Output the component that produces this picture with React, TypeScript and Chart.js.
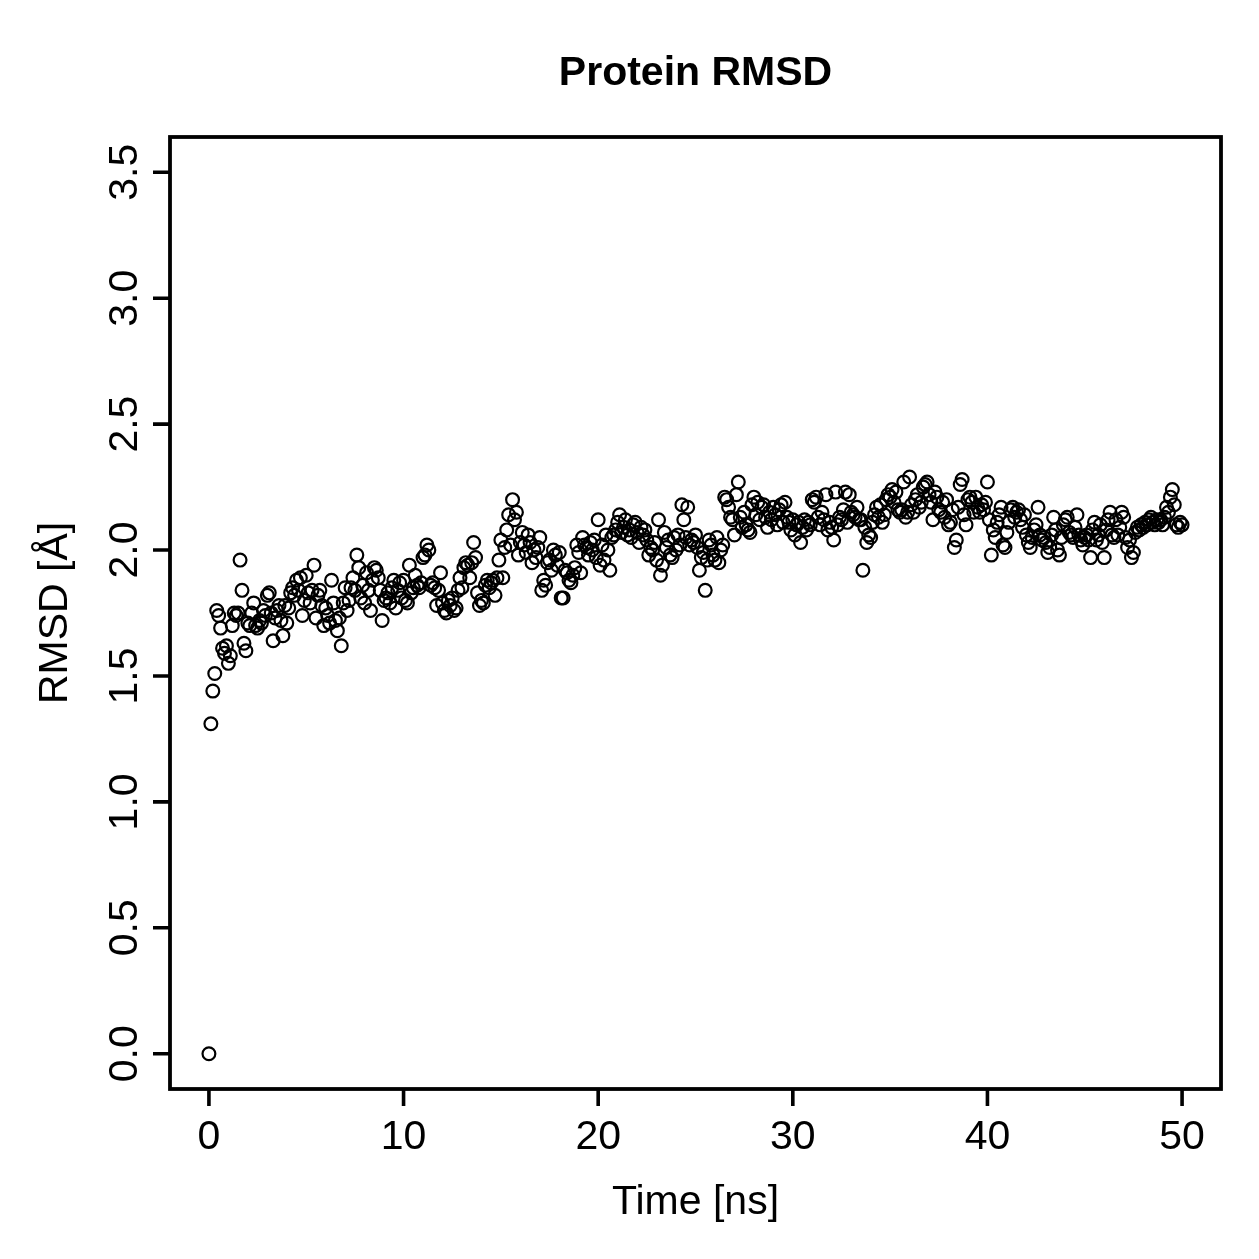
import React, { useEffect, useRef } from "react";
import { Chart, registerables } from "chart.js";

Chart.register(...registerables);

// Sampling interval of the trajectory frames (ns)
const FRAME_STEP_NS = 0.1;

// Backbone RMSD per frame (Å), 10 frames per ns
const rmsd: number[] = [
  0.00, 1.31, 1.44, 1.51, 1.76, 1.74, 1.69, 1.61, 1.59, 1.62,
  1.55, 1.58, 1.70, 1.75, 1.74, 1.75, 1.96, 1.84, 1.63, 1.60,
  1.71, 1.70, 1.75, 1.79, 1.70, 1.69, 1.72, 1.71, 1.76, 1.74,
  1.82, 1.83, 1.75, 1.64, 1.73, 1.76, 1.78, 1.72, 1.66, 1.78,
  1.71, 1.77, 1.83, 1.85, 1.82, 1.88, 1.84, 1.89, 1.74, 1.80,
  1.90, 1.83, 1.79, 1.84, 1.94, 1.73, 1.82, 1.84, 1.78, 1.70,
  1.77, 1.74, 1.71, 1.88, 1.79, 1.72, 1.68, 1.73, 1.62, 1.79,
  1.85, 1.76, 1.80, 1.85, 1.89, 1.84, 1.98, 1.93, 1.81, 1.86,
  1.79, 1.91, 1.84, 1.76, 1.88, 1.93, 1.92, 1.89, 1.84, 1.72,
  1.80, 1.81, 1.83, 1.79, 1.85, 1.88, 1.77, 1.84, 1.87, 1.81,
  1.88, 1.80, 1.79, 1.94, 1.83, 1.85, 1.90, 1.86, 1.85, 1.87,
  1.97, 1.98, 2.02, 2.00, 1.86, 1.87, 1.85, 1.78, 1.84, 1.91,
  1.79, 1.76, 1.75, 1.80, 1.78, 1.81, 1.76, 1.77, 1.84, 1.89,
  1.85, 1.93, 1.95, 1.94, 1.89, 1.95, 2.03, 1.97, 1.83, 1.78,
  1.80, 1.79, 1.86, 1.88, 1.85, 1.87, 1.88, 1.82, 1.89, 1.96,
  2.04, 1.89, 2.01, 2.08, 2.14, 2.02, 2.20, 2.12, 2.15, 1.98,
  2.03, 2.07, 2.02, 1.99, 2.06, 2.03, 1.95, 2.00, 1.97, 2.01,
  2.05, 1.84, 1.88, 1.86, 1.95, 1.96, 1.92, 2.00, 1.98, 1.94,
  1.99, 1.81, 1.81, 1.92, 1.91, 1.88, 1.87, 1.90, 1.93, 2.02,
  1.99, 1.91, 2.05, 2.02, 2.01, 1.98, 2.03, 2.00, 2.04, 1.97,
  2.12, 1.94, 2.02, 1.96, 2.06, 2.00, 1.92, 2.05, 2.06, 2.08,
  2.11, 2.14, 2.07, 2.09, 2.12, 2.06, 2.08, 2.05, 2.10, 2.11,
  2.07, 2.03, 2.09, 2.06, 2.08, 2.04, 1.98, 2.01, 2.00, 2.03,
  1.96, 2.12, 1.90, 1.94, 2.07, 2.01, 2.04, 1.98, 1.97, 2.05,
  2.00, 2.06, 2.02, 2.18, 2.12, 2.05, 2.17, 2.02, 2.04, 2.03,
  2.06, 2.01, 1.92, 1.97, 1.99, 1.84, 1.96, 2.04, 2.02, 1.98,
  1.96, 2.05, 1.95, 2.00, 2.02, 2.21, 2.20, 2.17, 2.13, 2.12,
  2.06, 2.22, 2.27, 2.13, 2.09, 2.15, 2.10, 2.08, 2.07, 2.18,
  2.21, 2.14, 2.19, 2.12, 2.17, 2.18, 2.13, 2.09, 2.15, 2.12,
  2.17, 2.14, 2.10, 2.16, 2.18, 2.11, 2.19, 2.13, 2.11, 2.08,
  2.12, 2.06, 2.10, 2.11, 2.03, 2.09, 2.12, 2.08, 2.11, 2.10,
  2.20, 2.19, 2.21, 2.13, 2.10, 2.15, 2.12, 2.22, 2.08, 2.11,
  2.09, 2.04, 2.23, 2.10, 2.13, 2.12, 2.16, 2.23, 2.11, 2.22,
  2.15, 2.14, 2.13, 2.17, 2.12, 2.12, 1.92, 2.09, 2.03, 2.06,
  2.05, 2.11, 2.14, 2.17, 2.13, 2.18, 2.11, 2.14, 2.20, 2.22,
  2.21, 2.24, 2.19, 2.23, 2.16, 2.15, 2.16, 2.27, 2.13, 2.15,
  2.29, 2.18, 2.15, 2.20, 2.22, 2.17, 2.19, 2.25, 2.26, 2.27,
  2.22, 2.19, 2.12, 2.23, 2.21, 2.16, 2.15, 2.19, 2.13, 2.20,
  2.10, 2.11, 2.16, 2.01, 2.04, 2.17, 2.26, 2.28, 2.14, 2.10,
  2.20, 2.21, 2.19, 2.15, 2.21, 2.17, 2.15, 2.18, 2.16, 2.19,
  2.27, 2.12, 1.98, 2.08, 2.05, 2.11, 2.14, 2.17, 2.02, 2.01,
  2.07, 2.11, 2.16, 2.17, 2.13, 2.15, 2.16, 2.12, 2.09, 2.14,
  2.06, 2.03, 2.01, 2.05, 2.08, 2.10, 2.17, 2.06, 2.04, 2.05,
  2.03, 1.99, 2.01, 2.06, 2.13, 2.08, 2.00, 1.98, 2.05, 2.10,
  2.12, 2.13, 2.07, 2.06, 2.05, 2.09, 2.14, 2.06, 2.04, 2.02,
  2.05, 2.06, 2.04, 1.97, 2.08, 2.11, 2.04, 2.06, 2.10, 2.03,
  1.97, 2.08, 2.12, 2.15, 2.06, 2.05, 2.12, 2.06, 2.09, 2.15,
  2.13, 2.05, 2.01, 2.04, 1.97, 1.99, 2.07, 2.09, 2.08, 2.10,
  2.09, 2.11, 2.10, 2.12, 2.13, 2.11, 2.10, 2.12, 2.11, 2.12,
  2.10, 2.13, 2.17, 2.15, 2.21, 2.24, 2.18, 2.10, 2.09, 2.11,
  2.10,
];

const xTicks: number[] = [0, 10, 20, 30, 40, 50];
const yTicks: number[] = [0.0, 0.5, 1.0, 1.5, 2.0, 2.5, 3.0, 3.5];

const TITLE = "Protein RMSD";
const X_TITLE = "Time [ns]";
const Y_TITLE = "RMSD [Å]";

const FONT = '"Liberation Sans", Arial, Helvetica, sans-serif';

// R-style box, outward ticks and labels, drawn through the chart's scales
const baseGraphics = {
  id: "baseGraphics",
  afterDraw(chart: any) {
    const { ctx, chartArea, scales } = chart;
    const xs = scales.x;
    const ys = scales.y;
    const { left, right, top, bottom } = chartArea;
    const tick = 17;
    ctx.save();
    ctx.strokeStyle = "#000";
    ctx.fillStyle = "#000";
    ctx.lineWidth = 3.8;
    ctx.lineCap = "square";
    ctx.strokeRect(left, top, right - left, bottom - top);

    // x axis
    ctx.lineCap = "butt";
    ctx.lineWidth = 3.6;
    ctx.beginPath();
    xTicks.forEach((v) => {
      const px = xs.getPixelForValue(v);
      ctx.moveTo(px, bottom);
      ctx.lineTo(px, bottom + tick);
    });
    ctx.stroke();
    ctx.font = `41px ${FONT}`;
    ctx.textAlign = "center";
    ctx.textBaseline = "alphabetic";
    xTicks.forEach((v) => {
      ctx.fillText(String(v), xs.getPixelForValue(v), bottom + 60);
    });

    // y axis
    ctx.beginPath();
    yTicks.forEach((v) => {
      const py = ys.getPixelForValue(v);
      ctx.moveTo(left, py);
      ctx.lineTo(left - tick, py);
    });
    ctx.stroke();
    yTicks.forEach((v) => {
      ctx.save();
      ctx.translate(left - 33, ys.getPixelForValue(v));
      ctx.rotate(-Math.PI / 2);
      ctx.fillText(v.toFixed(1), 0, 0);
      ctx.restore();
    });

    // axis titles
    const cx = (left + right) / 2;
    const cy = (top + bottom) / 2;
    ctx.fillText(X_TITLE, cx, bottom + 125);
    ctx.save();
    ctx.translate(left - 103, cy);
    ctx.rotate(-Math.PI / 2);
    ctx.fillText(Y_TITLE, 0, 0);
    ctx.restore();

    // main title
    ctx.font = `bold 41px ${FONT}`;
    ctx.fillText(TITLE, cx, top - 52);
    ctx.restore();
  },
};

export default function App() {
  const canvasRef = useRef<HTMLCanvasElement | null>(null);

  useEffect(() => {
    const canvas = canvasRef.current;
    if (!canvas) return;
    const points = rmsd.map((v, i) => ({ x: +(i * FRAME_STEP_NS).toFixed(1), y: v }));
    const chart = new Chart(canvas, {
      type: "scatter",
      data: {
        datasets: [
          {
            data: points,
            pointRadius: 6.4,
            pointHoverRadius: 6.4,
            pointBorderWidth: 2.2,
            pointBackgroundColor: "rgba(0,0,0,0)",
            pointBorderColor: "#000",
          },
        ],
      },
      options: {
        animation: false,
        responsive: false,
        events: [],
        layout: { padding: { left: 170, right: 38, top: 137, bottom: 170 } },
        plugins: {
          legend: { display: false },
          tooltip: { enabled: false },
          title: { display: false },
        },
        scales: {
          x: { type: "linear", min: -2, max: 52, display: false },
          y: { type: "linear", min: -0.14, max: 3.64, display: false },
        },
      },
      plugins: [baseGraphics],
    });
    return () => chart.destroy();
  }, []);

  return (
    <div style={{ position: "fixed", left: 0, top: 0, width: 1259, height: 1259, background: "#fff" }}>
      <canvas ref={canvasRef} width={1259} height={1259} style={{ width: 1259, height: 1259 }} />
    </div>
  );
}
